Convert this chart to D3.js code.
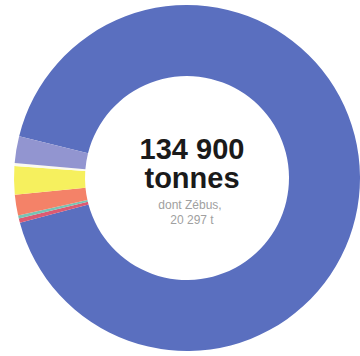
<!DOCTYPE html>
<html>
<head>
<meta charset="utf-8">
<script src="https://cdn.jsdelivr.net/npm/d3@7"></script>
<style>
  html, body { margin: 0; padding: 0; background: #ffffff; }
  svg { display: block; }
</style>
</head>
<body>
<script>
// Data (tonnes)
const categories = ["Bleu", "Rouge", "Turquoise", "Orange", "Jaune", "Blanc", "Lavande"];
const values     = [124030, 560, 375, 2620, 3560, 375, 3380];
const colors     = ["#5a6fbf", "#dc5a72", "#78c4b4", "#f48268", "#f6f05e", "#fbfaf0", "#9295d0"];
const totalLabel = ["134 900", "tonnes"];
const subLabel   = ["dont Zébus,", "20 297 t"];

const W = 360, H = 356;
const cx = 187, cy = 178, outerR = 173, innerR = 102;

const svg = d3.select("body").append("svg")
  .attr("width", W).attr("height", H);

const data = categories.map((c, i) => ({ name: c, value: values[i], color: colors[i] }));

const startDeg = 284;
const pie = d3.pie()
  .value(d => d.value)
  .sort(null)
  .startAngle(startDeg * Math.PI / 180)
  .endAngle((startDeg + 360) * Math.PI / 180);

const arc = d3.arc().innerRadius(innerR).outerRadius(outerR);

const g = svg.append("g").attr("transform", `translate(${cx},${cy})`);

g.selectAll("path")
  .data(pie(data))
  .join("path")
  .attr("d", arc)
  .attr("fill", d => d.data.color);

const t = svg.append("g").attr("text-anchor", "middle")
  .attr("font-family", "'Liberation Sans', Arial, sans-serif");

t.append("text")
  .attr("x", 192).attr("y", 159)
  .attr("font-size", 29).attr("font-weight", "bold").attr("fill", "#1a1a1a")
  .text(totalLabel[0]);
t.append("text")
  .attr("x", 192).attr("y", 188)
  .attr("font-size", 29).attr("font-weight", "bold").attr("fill", "#1a1a1a")
  .text(totalLabel[1]);

t.append("text")
  .attr("x", 190).attr("y", 209)
  .attr("font-size", 12).attr("fill", "#a0a0a0")
  .text(subLabel[0]);
t.append("text")
  .attr("x", 192).attr("y", 224)
  .attr("font-size", 12).attr("fill", "#a0a0a0")
  .text(subLabel[1]);
</script>
</body>
</html>
